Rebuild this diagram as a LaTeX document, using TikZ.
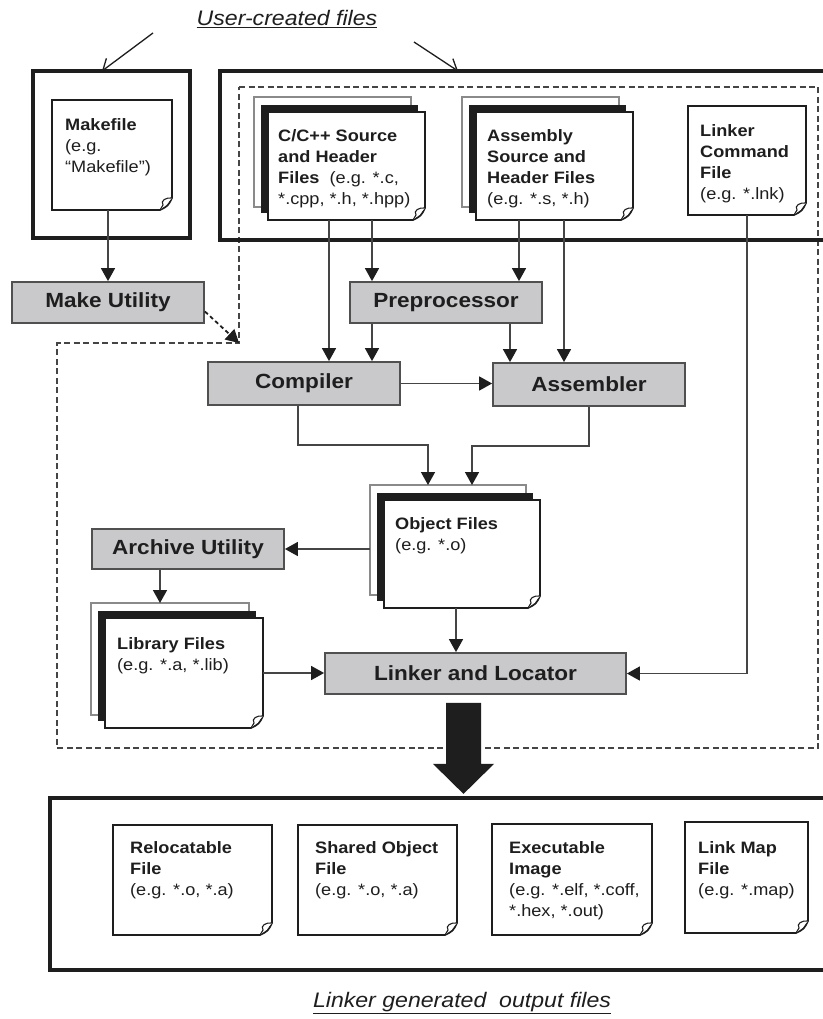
\documentclass[tikz,border=0pt]{standalone}
\usepackage{fontspec}
\setmainfont{Liberation Sans}[FakeStretch=1.1]
\usetikzlibrary{arrows.meta,fit,calc}

\definecolor{ink}{HTML}{1E1E1E}
\definecolor{wire}{HTML}{454545}
\definecolor{toolfill}{HTML}{C9C9CC}
\definecolor{toolline}{HTML}{505050}
\definecolor{sheetgray}{HTML}{8A8A8A}

\tikzset{
  wirearrow/.style={draw=wire, line width=1.5pt, -{Triangle[length=13pt,width=14pt,color=ink]}},
  dasharrow/.style={draw=ink, line width=1.8pt, dash pattern=on 4pt off 3pt, -{Triangle[length=13pt,width=14pt]}},
  openarrow/.style={draw=ink, line width=1.3pt, -{Straight Barb[length=10pt,width=15pt]}},
  tool/.style={draw=toolline, line width=1.8pt, fill=toolfill, inner sep=0pt,
    font=\fontsize{20.5}{24}\selectfont\bfseries, text=ink},
  frame/.style={draw=ink, line width=3.3pt, inner sep=0pt, outer sep=0pt},
  region/.style={draw=wire, line width=2.8pt, dash pattern=on 6pt off 3.5pt},
  sheetline/.style={draw=ink, line width=1.7pt, fill=white, line join=miter},
  flapline/.style={draw=ink, line width=1.1pt, fill=white},
  sheettext/.style={anchor=north west, align=left, inner sep=0pt,
    font=\fontsize{16.5}{21}\selectfont, text=ink},
  caption/.style={font=\fontsize{21}{25}\selectfont\itshape, text=ink},
}

% a single document sheet with a curled bottom-right corner
\newcommand\docsheet[5]{%
  \node[fit={(#2,#3) (#4,#5)}, inner sep=0pt, outer sep=0pt] (#1) {};
  \draw[sheetline]
    (#1.north west) -- (#1.north east) -- ([yshift=12pt]#1.south east)
    .. controls ([xshift=-4pt,yshift=4pt]#1.south east) .. ([xshift=-12pt]#1.south east)
    -- (#1.south west) -- cycle;
  \draw[flapline]
    ([yshift=12pt]#1.south east)
    .. controls ([xshift=-6pt,yshift=13pt]#1.south east) and ([xshift=-12pt,yshift=9pt]#1.south east)
    .. ([xshift=-9pt,yshift=5pt]#1.south east)
    -- ([xshift=-12pt]#1.south east);
}
% a stack of three sheets: outlined back sheet, black middle sheet, front sheet
\newcommand\docstack[5]{%
  \node[fit={($(#2,#3)+(-14,-15)$) ($(#4,#5)+(-14,-13)$)}, inner sep=0pt, outer sep=0pt,
        draw=sheetgray, line width=1.2pt, fill=white] (#1back) {};
  \node[fit={($(#2,#3)+(-7,-7)$) ($(#4,#5)+(-7,-7)$)}, inner sep=0pt, outer sep=0pt,
        fill=ink] (#1mid) {};
  \docsheet{#1}{#2}{#3}{#4}{#5}%
}

\begin{document}
\begin{tikzpicture}[x=1pt,y=-1pt]
\useasboundingbox (0,0) rectangle (822,1019);
\fill[white] (0,0) rectangle (822,1019);

% toolchain region
\coordinate (dcorner) at (239,343);
\draw[region] (239,87) -- (818,87) -- (818,748) -- (57,748) -- (57,343) -- (dcorner) -- cycle;

% frames around user files and output files
\node[frame, fit={(33,71) (190,238)}] (userL) {};
\node[frame, fit={(220,71) (830,240)}] (userR) {};
\node[frame, fit={(50,798) (830,970)}] (outbox) {};

% captions
\node[caption] (ucf) at (287,19) {\underline{User-created files}};
\node[caption] (lgo) at (462,1003) {\underline{Linker generated\ \ output files}};
\coordinate (ucfL) at (153,33);
\coordinate (ucfR) at (414,42);
\draw[openarrow] (ucfL) -- ([xshift=-9.5pt]userL.north);
\draw[openarrow] (ucfR) -- (458,71);

% user-created files
\docsheet{mkf}{52}{100}{172}{210}
\node[sheettext] (mkftext) at ($(mkf.north west)+(13,18)$)
  {\textbf{Makefile}\\(e.g.\\“Makefile”)};

\docstack{csrc}{268}{112}{425}{220}
\node[sheettext] (csrctext) at ($(csrc.north west)+(10,17)$)
  {\textbf{C/C++ Source}\\\textbf{and Header}\\\textbf{Files}\ \ (e.g. *.c,\\*.cpp, *.h, *.hpp)};

\docstack{asrc}{476}{112}{633}{220}
\node[sheettext] (asrctext) at ($(asrc.north west)+(11,17)$)
  {\textbf{Assembly}\\\textbf{Source and}\\\textbf{Header Files}\\(e.g. *.s, *.h)};

\docsheet{lcmd}{688}{106}{806}{215}
\node[sheettext] (lcmdtext) at ($(lcmd.north west)+(12,18)$)
  {\textbf{Linker}\\\textbf{Command}\\\textbf{File}\\(e.g. *.lnk)};

% intermediate files
\docstack{obj}{384}{500}{540}{608}
\node[sheettext] (objtext) at ($(obj.north west)+(11,17)$)
  {\textbf{Object Files}\\(e.g. *.o)};

\docstack{lib}{105}{618}{263}{728}
\node[sheettext] (libtext) at ($(lib.north west)+(12,19)$)
  {\textbf{Library Files}\\(e.g. *.a, *.lib)};

% linker output files
\docsheet{reloc}{113}{825}{272}{935}
\node[sheettext] (reloctext) at ($(reloc.north west)+(17,16)$)
  {\textbf{Relocatable}\\\textbf{File}\\(e.g. *.o, *.a)};
\docsheet{shared}{298}{825}{457}{935}
\node[sheettext] (sharedtext) at ($(shared.north west)+(17,16)$)
  {\textbf{Shared Object}\\\textbf{File}\\(e.g. *.o, *.a)};
\docsheet{exe}{492}{824}{652}{935}
\node[sheettext] (exetext) at ($(exe.north west)+(17,17)$)
  {\textbf{Executable}\\\textbf{Image}\\(e.g. *.elf, *.coff,\\*.hex, *.out)};
\docsheet{lmap}{685}{822}{808}{933}
\node[sheettext] (lmaptext) at ($(lmap.north west)+(13,19)$)
  {\textbf{Link Map}\\\textbf{File}\\(e.g. *.map)};

% tools
\node[tool, minimum width=192pt, minimum height=41pt] (make) at (108,302.5) {Make Utility};
\node[tool, minimum width=192pt, minimum height=41pt] (prep) at (446,302.5) {Preprocessor};
\node[tool, minimum width=192pt, minimum height=43pt] (comp) at (304,383.5) {Compiler};
\node[tool, minimum width=192pt, minimum height=43pt] (asm) at (589,384.5) {Assembler};
\node[tool, minimum width=192pt, minimum height=40pt] (arch) at (188,549) {Archive Utility};
\node[tool, minimum width=301pt, minimum height=41pt] (link) at (475.5,673.5) {Linker and Locator};

% connectors
\draw[wirearrow] (mkf.south -| make.north) -- (make.north);
\draw[dasharrow] ([yshift=-9pt]make.east) -- (dcorner);

\path ([xshift=-17.5pt]csrc.south) coordinate (cc1)
      ([xshift=25.5pt]csrc.south) coordinate (cc2)
      ([xshift=-35.5pt]asrc.south) coordinate (as1)
      ([xshift=9.5pt]asrc.south) coordinate (as2)
      ([xshift=-74pt]prep.south) coordinate (pp1)
      ([xshift=64pt]prep.south) coordinate (pp2);
\draw[wirearrow] (cc1) -- (cc1 |- comp.north);
\draw[wirearrow] (cc2) -- (cc2 |- prep.north);
\draw[wirearrow] (as1) -- (as1 |- prep.north);
\draw[wirearrow] (as2) -- (as2 |- asm.north);
\draw[wirearrow] (pp1) -- (pp1 |- comp.north);
\draw[wirearrow] (pp2) -- (pp2 |- asm.north);
\draw[wirearrow] (comp.east) -- (comp.east -| asm.west);

\draw[wirearrow] ([xshift=-6pt]comp.south) |- ($(objback.north)+(-20,-40)$) -- ([xshift=-20pt]objback.north);
\draw[wirearrow] (asm.south) |- ($(objback.north)+(24,-39)$) -- ([xshift=24pt]objback.north);

\draw[wirearrow] (arch.east -| objback.west) -- (arch.east);
\draw[wirearrow] ([xshift=-28pt]arch.south) -- ([xshift=-28pt]arch.south |- libback.north);
\draw[wirearrow] (lib.east) -- (lib.east -| link.west);
\draw[wirearrow] ([xshift=-6pt]obj.south) -- ([xshift=-6pt]obj.south |- link.north);
\draw[wirearrow] (lcmd.south) |- (link.east);

% heavy output arrow from the linker to its output files
\coordinate (bigA) at ([xshift=-12pt]link.south);
\fill[ink] ($(bigA)+(-17.5,8)$) -- ($(bigA)+(17.5,8)$) -- ($(bigA)+(17.5,69)$)
  -- ($(bigA)+(30.5,69)$) -- ($(bigA)+(0,99)$) -- ($(bigA)+(-30.5,69)$)
  -- ($(bigA)+(-17.5,69)$) -- cycle;
\end{tikzpicture}
\end{document}
